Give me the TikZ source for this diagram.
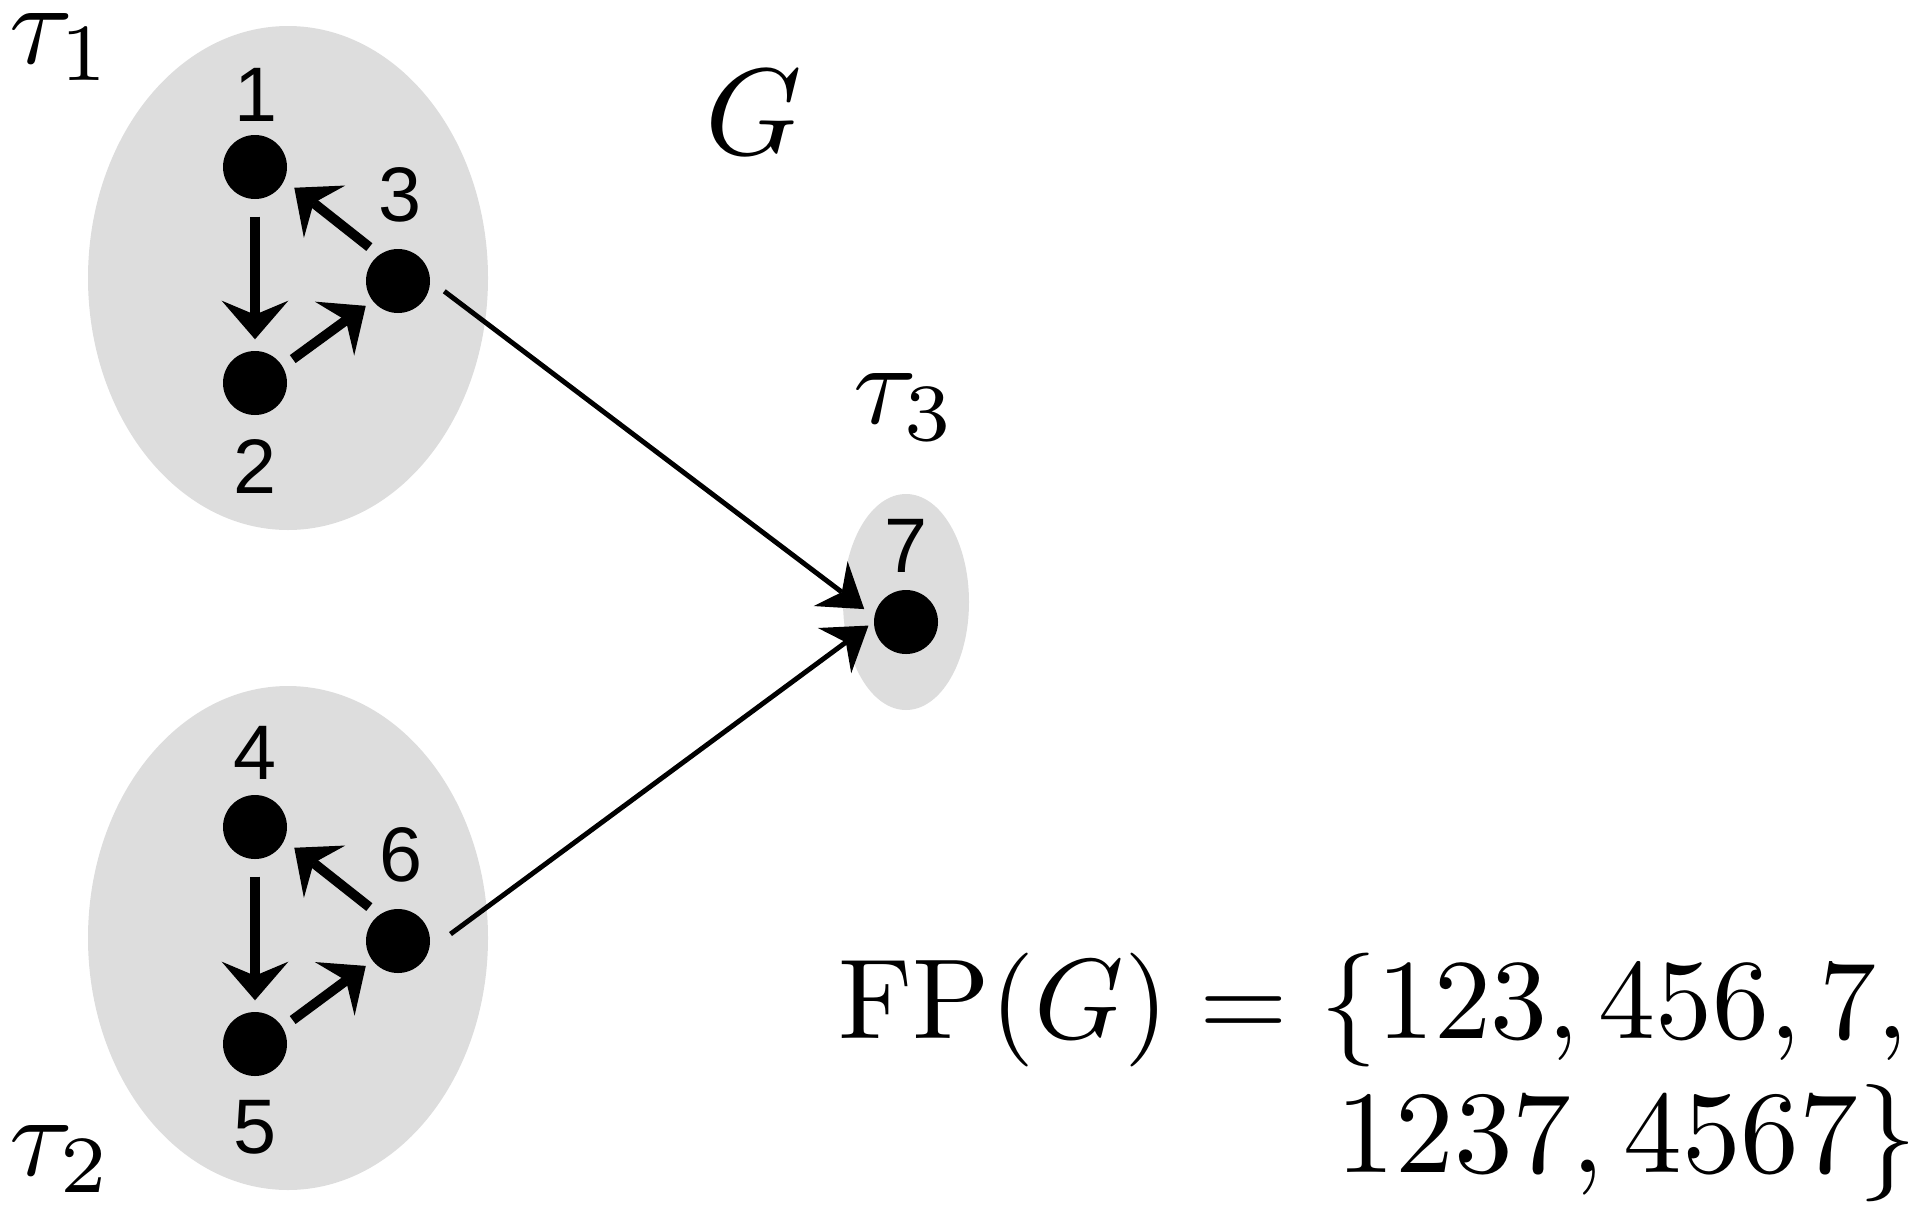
\documentclass[tikz,border=0pt]{standalone}
\usepackage{fontspec}
\newfontfamily\numfont{Liberation Sans}
\usetikzlibrary{arrows.meta}
\definecolor{clustergray}{RGB}{221,221,221}

\begin{document}
\begin{tikzpicture}[
    vertex/.style={circle, fill=black, inner sep=0pt, minimum size=0.64cm},
    numlabel/.style={inner sep=0pt, font=\numfont\fontsize{22}{26}\selectfont},
    mathlabel/.style={inner sep=0pt, scale=3.3, transform shape},
    fptext/.style={inner sep=0pt, scale=3.24, transform shape},
    innerarrow/.style={line width=2.8pt, -{Stealth[length=11pt, width=19pt, inset=4pt, line width=0pt]}},
    longarrow/.style={line width=1.4pt, -{Stealth[length=12pt, width=16pt, inset=4pt, line width=0pt]}}
]
    \useasboundingbox (0, 0) rectangle (19.2, 12.08);

    % Daerah abu-abu untuk tau_1, tau_2, tau_3
    \fill[clustergray] (2.88, 9.30) ellipse [x radius=2.00, y radius=2.52];
    \fill[clustergray] (2.88, 2.70) ellipse [x radius=2.00, y radius=2.52];
    \fill[clustergray] (9.06, 6.06) ellipse [x radius=0.63, y radius=1.08];

    % Label tau dan G
    \node[mathlabel, anchor=base west] (tau1) at (0.07, 11.45) {$\tau_1$};
    \node[mathlabel, anchor=base west] (tau2) at (0.07, 0.33) {$\tau_2$};
    \node[mathlabel, anchor=base west] (tau3) at (8.51, 7.85) {$\tau_3$};
    \node[mathlabel, scale=1.06] (gname) at (7.54, 10.96) {$G$};

    % Titik-titik di tau_1
    \node[vertex] (n1) at (2.55, 10.41) {};
    \node[vertex] (n2) at (2.55, 8.25) {};
    \node[vertex] (n3) at (3.98, 9.27) {};
    \node[numlabel] (l1) at (2.56, 11.13) {1};
    \node[numlabel] (l2) at (2.55, 7.42) {2};
    \node[numlabel] (l3) at (4.00, 10.13) {3};

    % Titik-titik di tau_2
    \node[vertex] (n4) at (2.55, 3.81) {};
    \node[vertex] (n5) at (2.55, 1.64) {};
    \node[vertex] (n6) at (3.98, 2.67) {};
    \node[numlabel] (l4) at (2.55, 4.55) {4};
    \node[numlabel] (l5) at (2.55, 0.81) {5};
    \node[numlabel] (l6) at (4.01, 3.53) {6};

    % Titik di tau_3
    \node[vertex] (n7) at (9.06, 5.86) {};
    \node[numlabel] (l7) at (9.06, 6.62) {7};

    % Siklus 1 -> 2 -> 3 -> 1
    \draw[innerarrow, shorten <=0.17cm, shorten >=0.11cm] (n1) -- (n2);
    \draw[innerarrow, shorten <=0.12cm, shorten >=0.08cm] (n2.31) -- (n3.218);
    \draw[innerarrow, shorten <=0.12cm, shorten >=0.12cm] (n3.126) -- (n1.-24);

    % Siklus 4 -> 5 -> 6 -> 4
    \draw[innerarrow, shorten <=0.17cm, shorten >=0.11cm] (n4) -- (n5);
    \draw[innerarrow, shorten <=0.12cm, shorten >=0.08cm] (n5.31) -- (n6.218);
    \draw[innerarrow, shorten <=0.12cm, shorten >=0.12cm] (n6.126) -- (n4.-24);

    % Panah panjang ke titik 7
    \draw[longarrow, shorten <=0.17cm, shorten >=0.12cm] (n3.east) -- (n7.170);
    \draw[longarrow, shorten <=0.26cm, shorten >=0.06cm] (n6.-15) -- (n7.180);

    % Himpunan FP(G)
    \node[fptext, anchor=base west] (fpa) at (8.36, 1.70) {$\mathrm{FP}(G) = \{123, 456, 7,$};
    \node[fptext, scale=1.03, anchor=base east] (fpb) at (19.19, 0.36) {$1237, 4567\}$};

\end{tikzpicture}
\end{document}
